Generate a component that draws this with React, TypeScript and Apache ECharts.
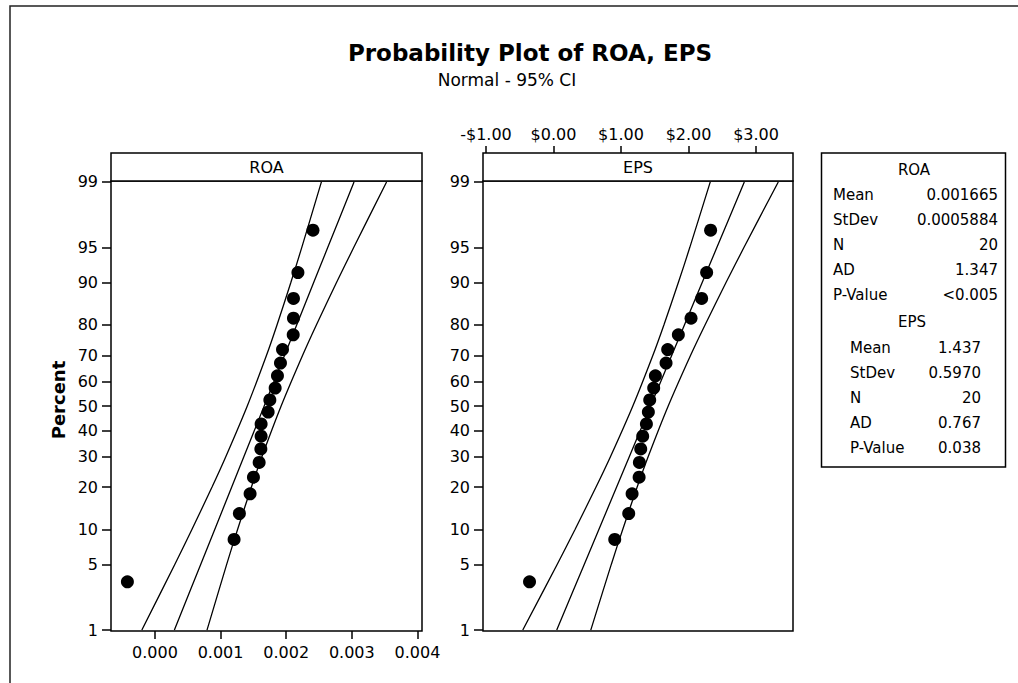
import { useEffect, useRef } from "react";
import * as echarts from "echarts";

// ---- data ----
const percentTicks = [1, 5, 10, 20, 30, 40, 50, 60, 70, 80, 90, 95, 99];
const plotPercents = [3.4, 8.3, 13.2, 18.1, 23.0, 27.9, 32.8, 37.7, 42.6, 47.5, 52.5, 57.4, 62.3, 67.2, 72.1, 77.0, 81.9, 86.8, 91.7, 96.6];
const roaValues = [-0.00042, 0.001206, 0.001287, 0.00145, 0.001501, 0.001588, 0.001614, 0.001618, 0.001618, 0.001725, 0.001751, 0.001832, 0.001867, 0.001913, 0.001944, 0.002107, 0.002111, 0.002111, 0.002179, 0.002408];
const epsValues = [-0.355, 0.907, 1.114, 1.164, 1.268, 1.272, 1.292, 1.321, 1.376, 1.405, 1.425, 1.484, 1.509, 1.667, 1.691, 1.849, 2.037, 2.194, 2.268, 2.327];

const bandPercents = [1, 5, 10, 20, 30, 50, 70, 80, 90, 95, 99];
const roaFit = [0.000296, 0.000697, 0.000911, 0.00117, 0.001356, 0.001665, 0.001974, 0.00216, 0.002419, 0.002633, 0.003034];
const roaLower = [-0.0002, 0.000302, 0.000563, 0.00087, 0.001081, 0.001407, 0.001699, 0.00186, 0.002071, 0.002237, 0.002537];
const roaUpper = [0.000793, 0.001093, 0.001259, 0.00147, 0.001631, 0.001923, 0.002249, 0.00246, 0.002767, 0.003029, 0.00353];
const epsFit = [0.048, 0.455, 0.672, 0.935, 1.124, 1.437, 1.75, 1.939, 2.202, 2.419, 2.826];
const epsLower = [-0.455, 0.054, 0.319, 0.63, 0.845, 1.175, 1.471, 1.635, 1.849, 2.018, 2.322];
const epsUpper = [0.552, 0.856, 1.025, 1.239, 1.403, 1.699, 2.029, 2.244, 2.555, 2.82, 3.329];

const roaTicks = [0, 0.001, 0.002, 0.003, 0.004];
const epsTicks = [-1, 0, 1, 2, 3];

const roaStatLabels = ["Mean", "StDev", "N", "AD", "P-Value"];
const roaStatValues = ["0.001665", "0.0005884", "20", "1.347", "<0.005"];
const epsStatLabels = ["Mean", "StDev", "N", "AD", "P-Value"];
const epsStatValues = ["1.437", "0.5970", "20", "0.767", "0.038"];

// inverse normal CDF (Acklam)
function probit(p: number): number {
  const a = [-39.69683028665376, 220.9460984245205, -275.9285104469687, 138.357751867269, -30.66479806614716, 2.506628277459239];
  const b = [-54.47609879822406, 161.5858368580409, -155.6989798598866, 66.80131188771972, -13.28068155288572];
  const c = [-0.007784894002430293, -0.3223964580411365, -2.400758277161838, -2.549732539343734, 4.374664141464968, 2.938163982698783];
  const d = [0.007784695709041462, 0.3224671290700398, 2.445134137142996, 3.754408661907416];
  const pl = 0.02425;
  if (p < pl) {
    const q = Math.sqrt(-2 * Math.log(p));
    return (((((c[0] * q + c[1]) * q + c[2]) * q + c[3]) * q + c[4]) * q + c[5]) / ((((d[0] * q + d[1]) * q + d[2]) * q + d[3]) * q + 1);
  }
  if (p > 1 - pl) {
    const q = Math.sqrt(-2 * Math.log(1 - p));
    return -(((((c[0] * q + c[1]) * q + c[2]) * q + c[3]) * q + c[4]) * q + c[5]) / ((((d[0] * q + d[1]) * q + d[2]) * q + d[3]) * q + 1);
  }
  const q = p - 0.5;
  const r = q * q;
  return ((((((a[0] * r + a[1]) * r + a[2]) * r + a[3]) * r + a[4]) * r + a[5]) * q) / (((((b[0] * r + b[1]) * r + b[2]) * r + b[3]) * r + b[4]) * r + 1);
}

const FONT = "DejaVu Sans";
const tickZ = percentTicks.map((p) => probit(p / 100));
const yFormatter = (v: number) => {
  let best = 0;
  let bd = Infinity;
  tickZ.forEach((z, i) => {
    const dd = Math.abs(z - v);
    if (dd < bd) { bd = dd; best = i; }
  });
  return String(percentTicks[best]);
};

export default function App() {
  const ref = useRef<HTMLDivElement>(null);
  useEffect(() => {
    if (!ref.current) return;
    const chart = echarts.init(ref.current, null, { renderer: "svg" });
    const Z = 2.336;
    const yAxisBase = (gi: number) => ({
      type: "value",
      gridIndex: gi,
      min: -Z,
      max: Z,
      position: "left",
      axisLine: { show: false, onZero: false },
      splitLine: { show: false },
      axisTick: { show: true, customValues: tickZ, length: 9, lineStyle: { color: "#000", width: 1.5 } },
      axisLabel: { customValues: tickZ, formatter: yFormatter, fontSize: 16, fontFamily: FONT, color: "#000", margin: 13 },
    });
    const lineSeries = (xs: number[], gi: number) => ({
      type: "line",
      xAxisIndex: gi,
      yAxisIndex: gi,
      data: xs.map((x, i) => [x, probit(bandPercents[i] / 100)]),
      showSymbol: false,
      smooth: 0.3,
      lineStyle: { color: "#000", width: 1.3 },
      silent: true,
    });
    const scatterSeries = (xs: number[], gi: number) => ({
      type: "scatter",
      xAxisIndex: gi,
      yAxisIndex: gi,
      data: xs.map((x, i) => [x, probit(plotPercents[i] / 100)]),
      symbol: "circle",
      symbolSize: 13,
      itemStyle: { color: "#000", opacity: 1 },
      z: 5,
    });
    const graphics: any[] = [
      { type: "rect", shape: { x: 10, y: 6, width: 1100, height: 800 }, style: { fill: "none", stroke: "#222", lineWidth: 1.5 } },
      { type: "text", x: 530, y: 53, style: { text: "Probability Plot of ROA, EPS", font: `bold 23px "${FONT}"`, fill: "#000", align: "center", verticalAlign: "middle" } },
      { type: "text", x: 507, y: 80, style: { text: "Normal - 95% CI", font: `17px "${FONT}"`, fill: "#000", align: "center", verticalAlign: "middle" } },
      { type: "text", x: 58, y: 400, rotation: Math.PI / 2, style: { text: "Percent", font: `bold 18px "${FONT}"`, fill: "#000", align: "center", verticalAlign: "middle" } },
      { type: "rect", shape: { x: 111, y: 153, width: 311, height: 28 }, style: { fill: "#fff", stroke: "#000", lineWidth: 1.5 } },
      { type: "text", x: 266.5, y: 167, style: { text: "ROA", font: `16px "${FONT}"`, fill: "#000", align: "center", verticalAlign: "middle" } },
      { type: "rect", shape: { x: 483, y: 153, width: 310, height: 28 }, style: { fill: "#fff", stroke: "#000", lineWidth: 1.5 } },
      { type: "text", x: 638, y: 167, style: { text: "EPS", font: `16px "${FONT}"`, fill: "#000", align: "center", verticalAlign: "middle" } },
      { type: "rect", shape: { x: 821.5, y: 153, width: 184, height: 314 }, style: { fill: "#fff", stroke: "#000", lineWidth: 1.5 } },
      { type: "text", x: 914, y: 170, style: { text: "ROA", font: `15px "${FONT}"`, fill: "#000", align: "center", verticalAlign: "middle" } },
      { type: "text", x: 912, y: 322, style: { text: "EPS", font: `15px "${FONT}"`, fill: "#000", align: "center", verticalAlign: "middle" } },
    ];
    roaStatLabels.forEach((l, i) => {
      const y = 195 + i * 25;
      graphics.push({ type: "text", x: 833, y, style: { text: l, font: `15px "${FONT}"`, fill: "#000", align: "left", verticalAlign: "middle" } });
      graphics.push({ type: "text", x: 998, y, style: { text: roaStatValues[i], font: `15px "${FONT}"`, fill: "#000", align: "right", verticalAlign: "middle" } });
    });
    epsStatLabels.forEach((l, i) => {
      const y = 348 + i * 25;
      graphics.push({ type: "text", x: 850, y, style: { text: l, font: `15px "${FONT}"`, fill: "#000", align: "left", verticalAlign: "middle" } });
      graphics.push({ type: "text", x: 981, y, style: { text: epsStatValues[i], font: `15px "${FONT}"`, fill: "#000", align: "right", verticalAlign: "middle" } });
    });

    chart.setOption({
      animation: false,
      backgroundColor: "#fff",
      textStyle: { fontFamily: FONT },
      grid: [
        { left: 111, top: 181, width: 311, height: 450, show: true, borderColor: "#000", borderWidth: 1.5, backgroundColor: "transparent" },
        { left: 483, top: 181, width: 310, height: 450, show: true, borderColor: "#000", borderWidth: 1.5, backgroundColor: "transparent" },
      ],
      xAxis: [
        {
          type: "value",
          gridIndex: 0,
          min: -0.00067,
          max: 0.00407,
          position: "bottom",
          axisLine: { show: false, onZero: false },
          splitLine: { show: false },
          axisTick: { show: true, customValues: roaTicks, length: 8, lineStyle: { color: "#000", width: 1.5 } },
          axisLabel: { customValues: roaTicks, formatter: (v: number) => v.toFixed(3), fontSize: 16, fontFamily: FONT, color: "#000", margin: 13 },
        },
        {
          type: "value",
          gridIndex: 1,
          min: -1.044,
          max: 3.547,
          position: "top",
          offset: 28,
          axisLine: { show: false, onZero: false },
          splitLine: { show: false },
          axisTick: { show: true, customValues: epsTicks, length: 7, lineStyle: { color: "#000", width: 1.5 } },
          axisLabel: {
            customValues: epsTicks,
            formatter: (v: number) => (v < 0 ? "-$" + Math.abs(v).toFixed(2) : "$" + v.toFixed(2)),
            fontSize: 16,
            fontFamily: FONT,
            color: "#000",
            margin: 11,
          },
        },
      ],
      yAxis: [yAxisBase(0), yAxisBase(1)],
      series: [
        lineSeries(roaLower, 0),
        lineSeries(roaFit, 0),
        lineSeries(roaUpper, 0),
        scatterSeries(roaValues, 0),
        lineSeries(epsLower, 1),
        lineSeries(epsFit, 1),
        lineSeries(epsUpper, 1),
        scatterSeries(epsValues, 1),
      ],
      graphic: graphics,
    });
    return () => chart.dispose();
  }, []);
  return <div ref={ref} style={{ position: "fixed", left: 0, top: 0, width: 1018, height: 683 }} />;
}
